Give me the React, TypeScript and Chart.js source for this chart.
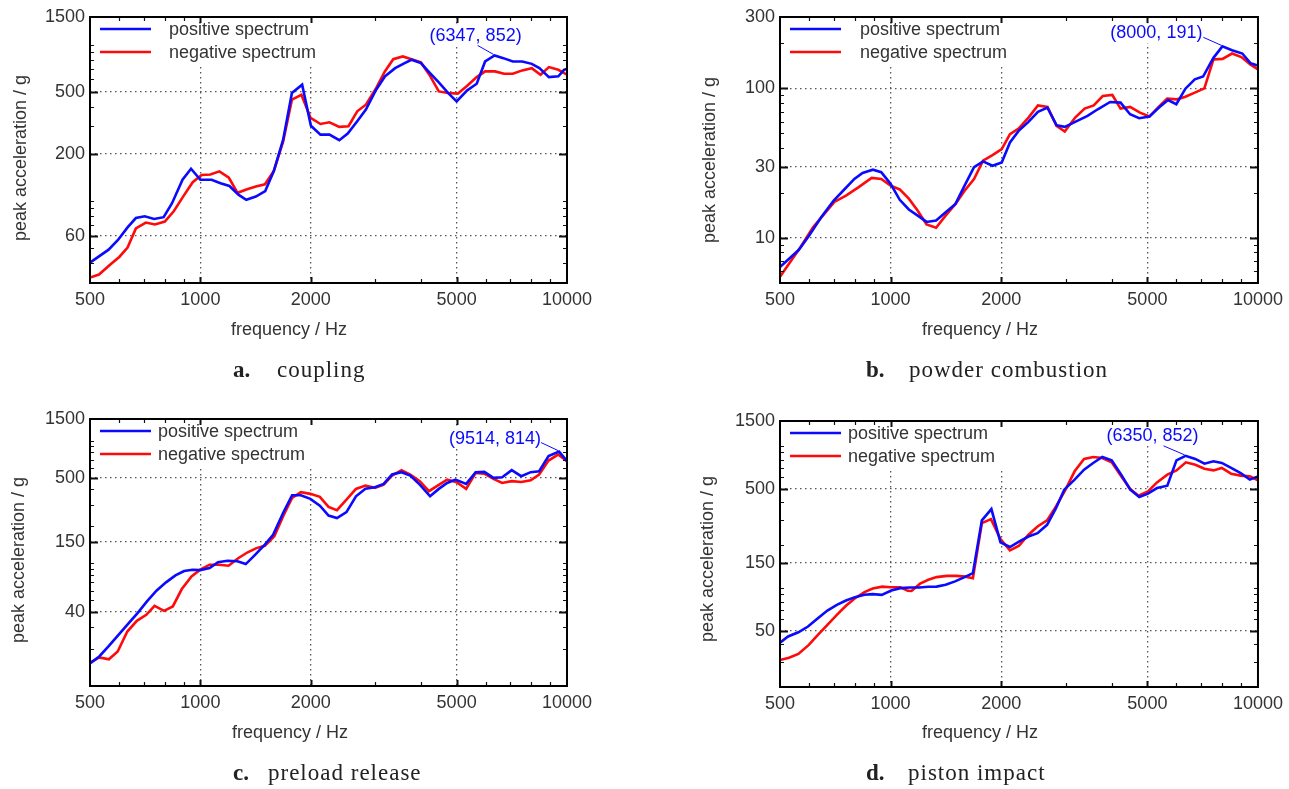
import { useEffect, useRef } from 'react';
import { Chart, registerables } from 'chart.js';

Chart.register(...registerables);

// ---------- shared axis ticks ----------
const xMajor = [500, 1000, 2000, 5000, 10000];
const xMinor = [600, 700, 800, 900, 3000, 4000, 6000, 7000, 8000, 9000];

// ---------- panel a: coupling ----------
const aYMajor = [60, 200, 500, 1500];
const aYMinor = [40, 50, 70, 80, 90, 100, 300, 400, 600, 700, 800, 900, 1000];
const aPosFreq = [500, 562, 596, 633, 667, 705, 748, 794, 837, 894, 943, 1000, 1073, 1135, 1200, 1270, 1334, 1417, 1503, 1585, 1682, 1777, 1895, 2002, 2126, 2250, 2393, 2523, 2678, 2828, 3016, 3186, 3398, 3607, 3766, 3996, 4212, 4470, 4744, 5000, 5344, 5672, 5980, 6347, 6704, 7115, 7551, 8015, 8409, 8925, 9470, 9815, 10000];
const aPosVal = [40.5, 49, 56.5, 68, 78, 80, 77, 79, 97, 137, 161, 137, 137, 130, 125, 110, 102, 107, 116, 155, 247, 490, 554, 303, 266, 266, 245, 270, 324, 384, 515, 626, 707, 761, 800, 761, 664, 573, 490, 434, 510, 562, 780, 852, 819, 780, 780, 753, 707, 620, 627, 690, 700];
const aNegFreq = [500, 529, 569, 601, 633, 667, 710, 752, 800, 847, 900, 953, 1008, 1065, 1127, 1196, 1263, 1341, 1417, 1500, 1585, 1682, 1777, 1886, 1998, 2126, 2250, 2393, 2535, 2678, 2828, 3016, 3186, 3358, 3565, 3766, 3996, 4212, 4470, 4744, 5035, 5344, 5672, 5980, 6360, 6737, 7115, 7551, 8015, 8469, 8925, 9470, 10000];
const aNegVal = [32.5, 34, 39.5, 44, 50.5, 67, 73, 71, 74, 86.5, 108, 132, 147, 148, 155, 141, 113, 119, 124, 128, 155, 241, 445, 478, 340, 311, 319, 298, 301, 375, 413, 527, 674, 807, 840, 807, 769, 642, 502, 490, 486, 546, 620, 674, 674, 651, 651, 684, 707, 642, 718, 690, 642];

// ---------- panel b: powder combustion ----------
const bYMajor = [10, 30, 100, 300];
const bYMinor = [6, 7, 8, 9, 20, 40, 50, 60, 70, 80, 90, 200];
const bPosFreq = [500, 562, 599, 648, 700, 747, 797, 839, 895, 943, 1000, 1059, 1121, 1180, 1253, 1330, 1415, 1502, 1590, 1687, 1785, 1894, 2007, 2113, 2231, 2373, 2518, 2673, 2830, 2980, 3221, 3436, 3664, 3959, 4226, 4486, 4749, 5065, 5377, 5690, 5995, 6346, 6730, 7090, 7565, 8000, 8500, 9066, 9550, 10000];
const bPosVal = [6.4, 8.3, 10.3, 13.8, 17.8, 21, 24.8, 27.2, 28.6, 27.5, 23, 18, 15.5, 14.2, 12.8, 13.1, 14.9, 16.9, 22.4, 29.7, 32.5, 30.4, 32, 43.5, 52, 59.7, 69.6, 74.4, 56.7, 55.3, 60.6, 65.5, 72.5, 81.1, 80.3, 67.1, 63.2, 64.8, 74.4, 83.6, 78.3, 99.5, 115, 120, 160, 191, 180, 171, 147, 142];
const bNegFreq = [500, 533, 569, 615, 656, 703, 756, 817, 888, 943, 1000, 1059, 1121, 1183, 1253, 1330, 1415, 1502, 1590, 1687, 1785, 1894, 2007, 2113, 2231, 2373, 2518, 2673, 2830, 2980, 3180, 3374, 3572, 3780, 4014, 4226, 4486, 4773, 5065, 5377, 5661, 6026, 6346, 6730, 7146, 7565, 8008, 8500, 9012, 9550, 10000];
const bNegVal = [5.5, 6.9, 8.7, 11.8, 14.2, 17.4, 19.2, 21.8, 25.2, 24.8, 22.4, 21.1, 18.3, 15.3, 12.3, 11.7, 14.2, 16.9, 20.7, 24.8, 32.9, 35.8, 39.3, 49.4, 53.9, 63.8, 77, 75.1, 56.2, 51.5, 63.8, 73.2, 77, 88.9, 90.3, 73.2, 75.1, 68.9, 64.8, 75.5, 85.4, 84.5, 88, 93.6, 100, 156, 157.5, 171, 162, 144, 134];

// ---------- panel c: preload release ----------
const cYMajor = [40, 150, 500, 1500];
const cYMinor = [20, 30, 50, 60, 70, 80, 90, 100, 200, 300, 400, 600, 700, 800, 900, 1000];
const cPosFreq = [500, 530, 563, 598, 635, 674, 715, 759, 806, 855, 903, 952, 999, 1060, 1117, 1186, 1262, 1330, 1412, 1499, 1579, 1681, 1779, 1880, 1995, 2118, 2237, 2358, 2503, 2657, 2820, 2993, 3162, 3333, 3537, 3737, 3967, 4232, 4470, 4711, 4964, 5309, 5634, 5950, 6302, 6655, 7066, 7502, 7962, 8394, 8906, 9514, 10000];
const cPosVal = [15.3, 17.4, 21.2, 26.1, 32.1, 39.3, 48.9, 59.8, 69.9, 79.7, 86.5, 88.7, 88, 91.5, 102, 105, 104, 98.6, 117.5, 142, 171, 257, 359, 359, 335, 295, 245, 234, 261, 352, 406, 417, 444, 529, 553, 519, 438, 352, 404, 452, 481, 444, 553, 556, 497, 503, 574, 513, 553, 563, 747, 814, 680];
const cNegFreq = [500, 530, 563, 595, 632, 671, 712, 750, 796, 841, 890, 946, 999, 1060, 1125, 1194, 1268, 1346, 1422, 1499, 1591, 1689, 1779, 1880, 1995, 2118, 2237, 2358, 2503, 2657, 2820, 2993, 3162, 3333, 3537, 3737, 3967, 4202, 4437, 4711, 5000, 5309, 5634, 5950, 6302, 6655, 7066, 7502, 7962, 8394, 8906, 9455, 10000];
const cNegVal = [15.5, 17.1, 16.5, 19.1, 27.8, 34, 38, 45, 41, 44.5, 61.7, 78.2, 88.7, 97.4, 97.4, 95.6, 110, 123, 133, 139, 166, 249, 341, 380, 368, 348, 288, 271, 331, 404, 430, 412, 438, 519, 574, 529, 467, 387, 430, 481, 458, 404, 546, 538, 488, 452, 467, 460, 475, 529, 688, 770, 680];

// ---------- panel d: piston impact ----------
const dYMajor = [50, 150, 500, 1500];
const dYMinor = [30, 40, 60, 70, 80, 90, 100, 200, 300, 400, 600, 700, 800, 900, 1000];
const dPosFreq = [500, 526, 561, 596, 634, 673, 714, 756, 800, 849, 894, 946, 1004, 1063, 1128, 1197, 1267, 1334, 1412, 1498, 1590, 1675, 1772, 1881, 1991, 2113, 2236, 2373, 2512, 2666, 2820, 2970, 3169, 3362, 3560, 3769, 3998, 4243, 4491, 4753, 5019, 5311, 5666, 5999, 6350, 6752, 7150, 7566, 7970, 8452, 8971, 9499, 10000];
const dPosVal = [41.1, 45.4, 48.6, 53.4, 61.1, 69.2, 75.9, 81.4, 86, 89.3, 90.3, 89.3, 95.8, 99.5, 100.5, 100.5, 101.7, 102, 105, 111, 119, 127, 299, 359, 209, 194, 212, 230, 243, 278, 365, 492, 579, 681, 759, 837, 792, 628, 492, 437, 461, 505, 525, 792, 852, 810, 750, 780, 759, 700, 645, 579, 611];
const dNegFreq = [500, 529, 561, 599, 634, 673, 714, 756, 800, 849, 894, 949, 999, 1063, 1114, 1140, 1203, 1267, 1334, 1423, 1510, 1598, 1675, 1772, 1876, 1991, 2113, 2236, 2373, 2512, 2666, 2820, 2986, 3169, 3362, 3560, 3769, 3998, 4243, 4491, 4728, 5019, 5311, 5666, 5999, 6364, 6752, 7150, 7566, 7970, 8452, 8971, 9499, 10000];
const dNegVal = [31, 32.2, 34.2, 39.6, 46.6, 54.8, 64.5, 74.7, 84.5, 93.3, 99, 102, 101, 101, 95.3, 95, 107, 114, 119, 121.5, 121.5, 120, 117, 286, 305, 221, 183.5, 198, 237, 271, 299, 375, 486, 663, 810, 837, 823, 767, 611, 497, 446, 479, 554, 628, 673, 767, 738, 692, 673, 700, 638, 618, 611, 573];

// ---------- texts ----------
const seriesLabels = ['positive spectrum', 'negative spectrum'];
const xTitleText = 'frequency / Hz';
const yTitleText = 'peak acceleration / g';
const captionLetters = ['a.', 'b.', 'c.', 'd.'];
const captionTexts = ['coupling', 'powder combustion', 'preload release', 'piston impact'];
const peakFreqs = [6347, 8000, 9514, 6350];
const peakVals = [852, 191, 814, 852];

const BLUE = '#0a0aff';
const RED = '#ff0a0a';
const TEXT = '#333333';
const FONT_FAMILY = '"Liberation Sans", Arial, Helvetica, sans-serif';
const FONT_SIZE = 18;

type Panel = {
  left: number; top: number; width: number; height: number;
  area: { l: number; t: number; r: number; b: number };
  yMin: number; yMax: number; yMajor: number[]; yMinor: number[];
  posF: number[]; posV: number[]; negF: number[]; negV: number[];
  legendTextDx: number;
  yTitle: [number, number]; xTitle: [number, number];
  annot: { f: number; v: number; tdx: number; tdy: number; ldx: number; ldy: number };
  caption: { letter: string; text: string; top: number; lx: number; wx: number };
};

const panels: Panel[] = [
  {
    left: 0, top: 0, width: 640, height: 400,
    area: { l: 90, t: 17, r: 567, b: 283 },
    yMin: 30, yMax: 1500, yMajor: aYMajor, yMinor: aYMinor,
    posF: aPosFreq, posV: aPosVal, negF: aNegFreq, negV: aNegVal,
    legendTextDx: 79, yTitle: [21, 158], xTitle: [289, 330],
    annot: { f: peakFreqs[0], v: peakVals[0], tdx: -19, tdy: -19, ldx: -17, ldy: -10 },
    caption: { letter: captionLetters[0], text: captionTexts[0], top: 356, lx: 233, wx: 277 },
  },
  {
    left: 640, top: 0, width: 649, height: 400,
    area: { l: 140, t: 17, r: 620, b: 283 },
    yMin: 5, yMax: 300, yMajor: bYMajor, yMinor: bYMinor,
    posF: bPosFreq, posV: bPosVal, negF: bNegFreq, negV: bNegVal,
    legendTextDx: 80, yTitle: [70, 160], xTitle: [340, 330],
    annot: { f: peakFreqs[1], v: peakVals[1], tdx: -66, tdy: -13, ldx: -19, ldy: -9 },
    caption: { letter: captionLetters[1], text: captionTexts[1], top: 356, lx: 866, wx: 909 },
  },
  {
    left: 0, top: 400, width: 640, height: 389,
    area: { l: 90, t: 19, r: 567, b: 286 },
    yMin: 10, yMax: 1500, yMajor: cYMajor, yMinor: cYMinor,
    posF: cPosFreq, posV: cPosVal, negF: cNegFreq, negV: cNegVal,
    legendTextDx: 68, yTitle: [19, 160], xTitle: [290, 333],
    annot: { f: peakFreqs[2], v: peakVals[2], tdx: -64, tdy: -13, ldx: -18, ldy: -9 },
    caption: { letter: captionLetters[2], text: captionTexts[2], top: 759, lx: 233, wx: 268 },
  },
  {
    left: 640, top: 400, width: 649, height: 389,
    area: { l: 140, t: 21, r: 620, b: 287 },
    yMin: 20, yMax: 1500, yMajor: dYMajor, yMinor: dYMinor,
    posF: dPosFreq, posV: dPosVal, negF: dNegFreq, negV: dNegVal,
    legendTextDx: 68, yTitle: [68, 159], xTitle: [340, 333],
    annot: { f: peakFreqs[3], v: peakVals[3], tdx: -33, tdy: -20, ldx: -22, ldy: -10 },
    caption: { letter: captionLetters[3], text: captionTexts[3], top: 759, lx: 866, wx: 908 },
  },
];

const toPoints = (fs: number[], vs: number[]) => fs.map((f, i) => ({ x: f, y: vs[i] }));

function PanelChart({ p }: { p: Panel }) {
  const ref = useRef<HTMLCanvasElement | null>(null);

  useEffect(() => {
    const canvas = ref.current;
    if (!canvas) return;
    const xAll = [...xMajor, ...xMinor].sort((a, b) => a - b);
    const yAll = [...p.yMajor, ...p.yMinor].sort((a, b) => a - b);
    const xGrid = xMajor.filter((v) => v !== 500 && v !== 10000);
    const yGrid = p.yMajor.filter((v) => v !== p.yMax);
    const font = { family: FONT_FAMILY, size: FONT_SIZE };
    const fontStr = `${FONT_SIZE}px ${FONT_FAMILY}`;
    const annotLabel = `(${p.annot.f}, ${p.annot.v})`;

    const deco = {
      id: 'deco',
      beforeDatasetsDraw(chart: any) {
        const { ctx, chartArea } = chart;
        const { left, top } = chartArea;
        ctx.save();
        ctx.fillStyle = '#ffffff';
        ctx.fillRect(left + 1, top + 1, p.legendTextDx + 155, 48);
        const xs = chart.scales.x, ys = chart.scales.y;
        const px = xs.getPixelForValue(p.annot.f), py = ys.getPixelForValue(p.annot.v);
        ctx.font = fontStr;
        const w = ctx.measureText(annotLabel).width;
        ctx.fillRect(px + p.annot.tdx - w / 2 - 2, py + p.annot.tdy - 10, w + 4, 20);
        seriesLabels.forEach((lab, i) => {
          const y = top + 12 + i * 23;
          ctx.strokeStyle = i === 0 ? BLUE : RED;
          ctx.lineWidth = 2.5;
          ctx.beginPath();
          ctx.moveTo(left + 10, y);
          ctx.lineTo(left + 61, y);
          ctx.stroke();
          ctx.fillStyle = TEXT;
          ctx.font = fontStr;
          ctx.textAlign = 'left';
          ctx.textBaseline = 'middle';
          ctx.fillText(lab, left + p.legendTextDx, y + 1);
        });
        ctx.restore();
      },
      afterDraw(chart: any) {
        const { ctx, chartArea } = chart;
        const { left, top, right, bottom } = chartArea;
        const xs = chart.scales.x, ys = chart.scales.y;
        ctx.save();
        ctx.strokeStyle = '#111';
        xAll.forEach((v) => {
          if (v === 500 || v === 10000) return;
          const major = xMajor.includes(v);
          const x = Math.round(xs.getPixelForValue(v)) + 0.5;
          const len = major ? 6 : 4;
          ctx.lineWidth = major ? 2 : 1.2;
          ctx.beginPath();
          ctx.moveTo(x, bottom); ctx.lineTo(x, bottom - len);
          ctx.moveTo(x, top); ctx.lineTo(x, top + len);
          ctx.stroke();
        });
        yAll.forEach((v) => {
          if (v <= p.yMin || v >= p.yMax) return;
          const major = p.yMajor.includes(v);
          const y = Math.round(ys.getPixelForValue(v)) + 0.5;
          const len = major ? 8 : 4;
          ctx.lineWidth = major ? 2 : 1.2;
          ctx.beginPath();
          ctx.moveTo(left, y); ctx.lineTo(left + len, y);
          ctx.moveTo(right, y); ctx.lineTo(right - len, y);
          ctx.stroke();
        });
        ctx.strokeStyle = '#000';
        ctx.lineWidth = 2;
        ctx.strokeRect(left, top, right - left, bottom - top);
        const px = xs.getPixelForValue(p.annot.f), py = ys.getPixelForValue(p.annot.v);
        ctx.strokeStyle = BLUE;
        ctx.lineWidth = 1;
        ctx.beginPath();
        ctx.moveTo(px + p.annot.ldx, py + p.annot.ldy);
        ctx.lineTo(px - 1, py - 1);
        ctx.stroke();
        ctx.fillStyle = BLUE;
        ctx.font = fontStr;
        ctx.textAlign = 'center';
        ctx.textBaseline = 'middle';
        ctx.fillText(annotLabel, px + p.annot.tdx, py + p.annot.tdy);
        ctx.fillStyle = TEXT;
        ctx.fillText(xTitleText, p.xTitle[0], p.xTitle[1]);
        ctx.translate(p.yTitle[0], p.yTitle[1]);
        ctx.rotate(-Math.PI / 2);
        ctx.fillText(yTitleText, 0, 0);
        ctx.restore();
      },
    };

    const chart = new Chart(canvas, {
      type: 'line',
      data: {
        datasets: [
          { label: seriesLabels[0], data: toPoints(p.posF, p.posV), borderColor: BLUE, borderWidth: 2.6, pointRadius: 0, tension: 0, fill: false },
          { label: seriesLabels[1], data: toPoints(p.negF, p.negV), borderColor: RED, borderWidth: 2.6, pointRadius: 0, tension: 0, fill: false },
        ],
      },
      options: {
        animation: false,
        responsive: false,
        maintainAspectRatio: false,
        events: [],
        layout: { padding: { left: 0, top: p.area.t, right: p.width - p.area.r, bottom: 0 } },
        plugins: { legend: { display: false }, tooltip: { enabled: false }, title: { display: false } },
        scales: {
          x: {
            type: 'logarithmic', min: 500, max: 10000,
            afterBuildTicks: (s: any) => { s.ticks = xAll.map((v) => ({ value: v })); },
            afterFit: (s: any) => { s.height = p.height - p.area.b; },
            ticks: {
              autoSkip: false, maxRotation: 0, minRotation: 0, padding: 6, color: TEXT, font,
              callback: (v: any) => (xMajor.includes(Number(v)) ? String(v) : ''),
            },
            grid: {
              drawTicks: false, lineWidth: 1.3,
              color: (c: any) => (c.tick && xGrid.includes(c.tick.value) ? '#555' : 'rgba(0,0,0,0)'),
            },
            border: { display: false, dash: [1.5, 3.5] },
          },
          y: {
            type: 'logarithmic', min: p.yMin, max: p.yMax,
            afterBuildTicks: (s: any) => { s.ticks = yAll.map((v) => ({ value: v })); },
            afterFit: (s: any) => { s.width = p.area.l; },
            ticks: {
              autoSkip: false, padding: 5, color: TEXT, font,
              callback: (v: any) => (p.yMajor.includes(Number(v)) ? String(v) : ''),
            },
            grid: {
              drawTicks: false, lineWidth: 1.3,
              color: (c: any) => (c.tick && yGrid.includes(c.tick.value) ? '#555' : 'rgba(0,0,0,0)'),
            },
            border: { display: false, dash: [1.5, 3.5] },
          },
        },
      } as any,
      plugins: [deco],
    });
    return () => chart.destroy();
  }, [p]);

  return (
    <canvas
      ref={ref}
      width={p.width}
      height={p.height}
      style={{ position: 'absolute', left: p.left, top: p.top, width: p.width, height: p.height }}
    />
  );
}

export default function App() {
  return (
    <div style={{ position: 'absolute', left: 0, top: 0, width: 1289, height: 789, background: '#ffffff', overflow: 'hidden' }}>
      {panels.map((p, i) => (
        <PanelChart key={i} p={p} />
      ))}
      {panels.map((p, i) => (
        <div key={'c' + i}>
          <div style={{ position: 'absolute', left: p.caption.lx, top: p.caption.top, font: 'bold 23px "Liberation Serif", "Times New Roman", serif', lineHeight: '27px', color: '#222', whiteSpace: 'nowrap' }}>
            {p.caption.letter}
          </div>
          <div style={{ position: 'absolute', left: p.caption.wx, top: p.caption.top, font: '23px "Liberation Serif", "Times New Roman", serif', lineHeight: '27px', letterSpacing: '1px', color: '#222', whiteSpace: 'nowrap' }}>
            {p.caption.text}
          </div>
        </div>
      ))}
    </div>
  );
}
